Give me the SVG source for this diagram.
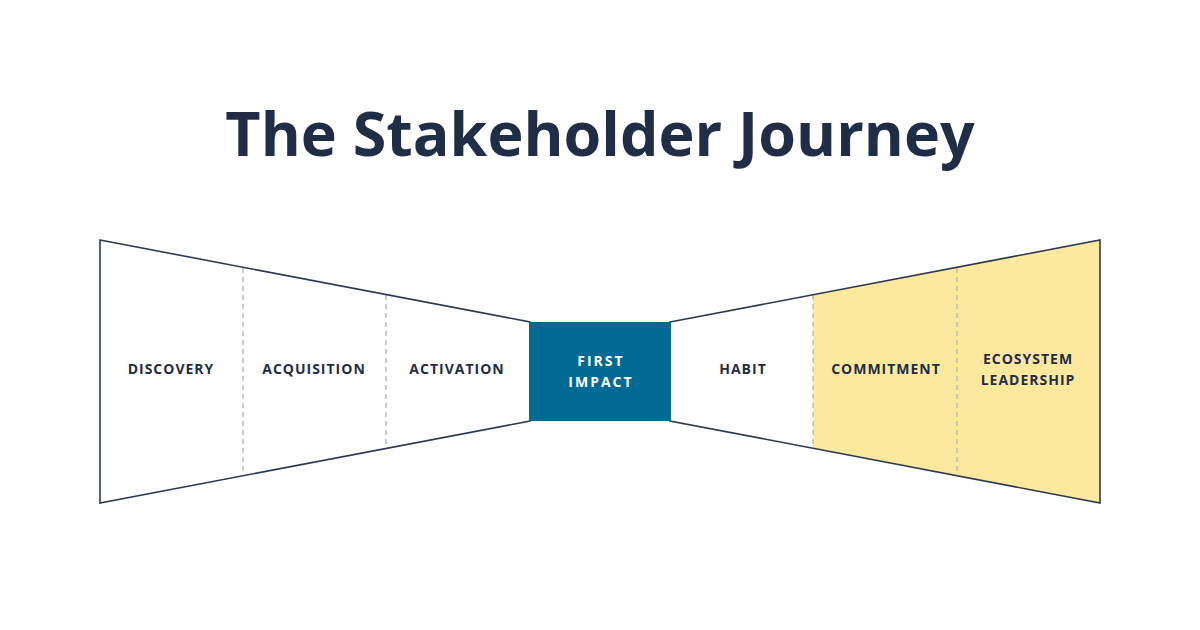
<svg xmlns="http://www.w3.org/2000/svg" width="1200" height="630" viewBox="0 0 1200 630">
<style>
.title{font-family:"Open Sans","Liberation Sans",sans-serif;font-weight:700;font-size:61px;fill:#1f2d46}
.lbl{font-family:"Open Sans","Liberation Sans",sans-serif;font-weight:700;font-size:14px;fill:#1f2d46;letter-spacing:1px;text-anchor:middle}
.wlbl{fill:#ffffff;letter-spacing:2px}
.out{fill:none;stroke:#2c3a52;stroke-width:1.6;stroke-linejoin:miter}
.dash{stroke:#b8b8b8;stroke-width:1.4;stroke-dasharray:5 4}
</style>
<rect width="1200" height="630" fill="#ffffff"/>
<text class="title" x="600" y="156" text-anchor="middle">The Stakeholder Journey</text>
<g id="yellow-fill">
<polygon points="813,294.8 1100,240 1100,503 813,448.2" fill="#fde99e"/>
</g>
<g id="connectors">
<line class="dash" x1="243" y1="268" x2="243" y2="475"/>
<line class="dash" x1="386" y1="295" x2="386" y2="448"/>
<line class="dash" x1="813" y1="295" x2="813" y2="448"/>
<line class="dash" x1="957" y1="268" x2="957" y2="475"/>
<polygon class="out" points="100,240 530,322 530,421 100,503"/>
<polygon class="out" points="670,322 1100,240 1100,503 670,421"/>
</g>
<g id="first-impact">
<rect x="529" y="322" width="142" height="99" fill="#006a94"/>
<text class="lbl wlbl" x="601" y="366">FIRST</text>
<text class="lbl wlbl" x="601" y="387">IMPACT</text>
</g>
<g id="discovery"><text class="lbl" x="171" y="374">DISCOVERY</text></g>
<g id="acquisition"><text class="lbl" x="314" y="374">ACQUISITION</text></g>
<g id="activation"><text class="lbl" x="457" y="374">ACTIVATION</text></g>
<g id="habit"><text class="lbl" x="743" y="374">HABIT</text></g>
<g id="commitment"><text class="lbl" x="886" y="374">COMMITMENT</text></g>
<g id="ecosystem-leadership">
<text class="lbl" x="1028" y="364">ECOSYSTEM</text>
<text class="lbl" x="1028" y="385">LEADERSHIP</text>
</g>
</svg>
